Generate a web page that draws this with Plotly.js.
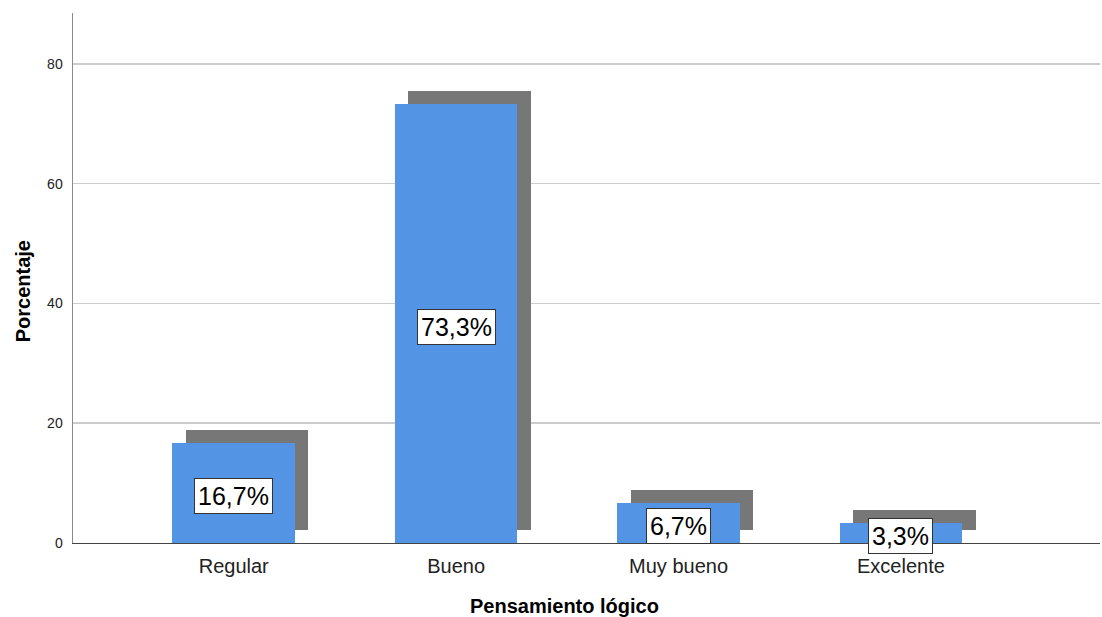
<!DOCTYPE html>
<html>
<head>
<meta charset="utf-8">
<script src="https://cdn.plot.ly/plotly-3.0.1.min.js"></script>
<style>html,body{margin:0;padding:0;background:#fff;}#chart{width:1102px;height:617px;}</style>
</head>
<body>
<div id="chart"></div>
<script>
const categories = ["Regular", "Bueno", "Muy bueno", "Excelente"];
const porcentajes = [16.7, 73.3, 6.7, 3.3];
const etiquetas = ["16,7%", "73,3%", "6,7%", "3,3%"];
const yTicks = [0, 20, 40, 60, 80];

const barWidth = 0.551;
const shadowDx = 0.0598;
const shadowDy = 2.22;
const FONT = "Liberation Sans, Arial, sans-serif";

const shadow = {
  type: "bar",
  x: categories,
  y: porcentajes,
  base: porcentajes.map(() => shadowDy),
  width: barWidth,
  offset: -barWidth / 2 + shadowDx,
  marker: {color: "#777777", line: {width: 0}},
  hoverinfo: "skip",
  showlegend: false
};
const bars = {
  type: "bar",
  x: categories,
  y: porcentajes,
  width: barWidth,
  offset: -barWidth / 2,
  marker: {color: "#5494e4", line: {width: 0}},
  showlegend: false
};

const annotations = categories.map((c, i) => ({
  x: c, y: porcentajes[i] / 2, xref: "x", yref: "y",
  text: etiquetas[i], showarrow: false, yshift: -3,
  font: {family: FONT, size: 25, color: "#000"},
  bgcolor: "#ffffff", bordercolor: "#333333", borderwidth: 1, borderpad: 3
}));
annotations.push({
  xref: "paper", yref: "paper", x: -0.049, y: 0.4743,
  xanchor: "center", yanchor: "middle",
  text: "Porcentaje", textangle: -90, showarrow: false,
  font: {family: FONT, size: 20, color: "#000", weight: "bold"}
});
annotations.push({
  xref: "paper", yref: "paper", x: 0.479, y: -0.119,
  xanchor: "center", yanchor: "middle",
  text: "Pensamiento lógico", showarrow: false,
  font: {family: FONT, size: 20, color: "#000", weight: "bold"}
});

const layout = {
  width: 1102, height: 617,
  margin: {l: 73, r: 2, t: 12.7, b: 74, pad: 0},
  paper_bgcolor: "#fff", plot_bgcolor: "#fff",
  barmode: "overlay",
  bargap: 0,
  font: {family: FONT},
  xaxis: {
    type: "category",
    range: [-0.7226, 3.895],
    showgrid: false, zeroline: false,
    showline: true, linecolor: "#444", linewidth: 1,
    ticks: "", ticklabelstandoff: 5,
    tickfont: {family: FONT, size: 20, color: "#222"},
    fixedrange: true
  },
  yaxis: {
    range: [0, 88.5],
    tickvals: yTicks, ticktext: yTicks.map(String),
    showgrid: true, gridcolor: "#cccccc", gridwidth: 1.5,
    zeroline: false,
    showline: true, linecolor: "#8a8a8a", linewidth: 1.5,
    ticks: "", ticklabelstandoff: 6,
    tickfont: {family: FONT, size: 14, color: "#222"},
    fixedrange: true
  },
  annotations: annotations
};

Plotly.newPlot("chart", [shadow, bars], layout, {displayModeBar: false, staticPlot: true});
</script>
</body>
</html>
